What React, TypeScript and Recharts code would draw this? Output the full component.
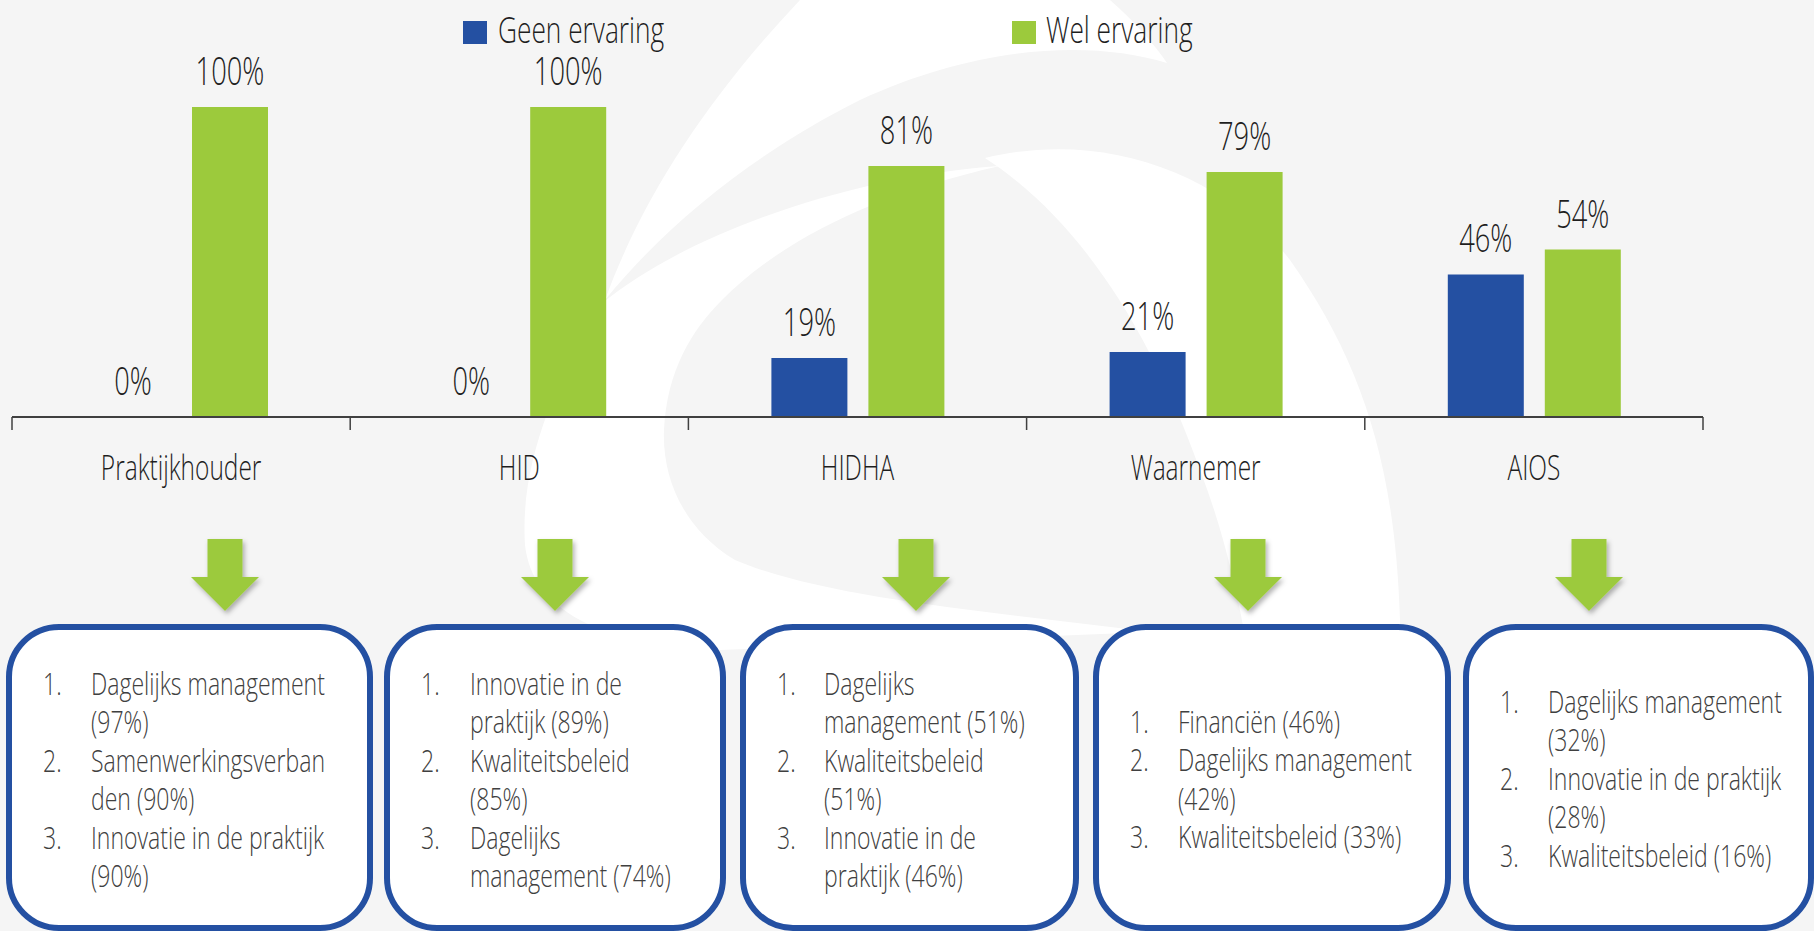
import React from 'react';
import { BarChart, Bar, XAxis, YAxis, LabelList, Legend } from 'recharts';

// ---------- data ----------
const categories = ['Praktijkhouder', 'HID', 'HIDHA', 'Waarnemer', 'AIOS'];
const geenErvaring = [0, 0, 19, 21, 46];
const welErvaring = [100, 100, 81, 79, 54];
const seriesNames = ['Geen ervaring', 'Wel ervaring'];

const box1 = [
  ['1.', 'Dagelijks management'], ['', '(97%)'],
  ['2.', 'Samenwerkingsverban'], ['', 'den (90%)'],
  ['3.', 'Innovatie in de praktijk'], ['', '(90%)'],
];
const box2 = [
  ['1.', 'Innovatie in de'], ['', 'praktijk (89%)'],
  ['2.', 'Kwaliteitsbeleid'], ['', '(85%)'],
  ['3.', 'Dagelijks'], ['', 'management (74%)'],
];
const box3 = [
  ['1.', 'Dagelijks'], ['', 'management (51%)'],
  ['2.', 'Kwaliteitsbeleid'], ['', '(51%)'],
  ['3.', 'Innovatie in de'], ['', 'praktijk (46%)'],
];
const box4 = [
  ['1.', 'Financiën (46%)'],
  ['2.', 'Dagelijks management'], ['', '(42%)'],
  ['3.', 'Kwaliteitsbeleid (33%)'],
];
const box5 = [
  ['1.', 'Dagelijks management'], ['', '(32%)'],
  ['2.', 'Innovatie in de praktijk'], ['', '(28%)'],
  ['3.', 'Kwaliteitsbeleid (16%)'],
];
const boxLists = [box1, box2, box3, box4, box5];

const data = categories.map((c, i) => ({ category: c, geen: geenErvaring[i], wel: welErvaring[i] }));

// ---------- styles / layout ----------
const W = 1814;
const H = 931;
const BLUE = '#2450a2';
const GREEN = '#9cca3c';
const BG = '#f5f5f5';
const INK = '#1e1e1e';
const BOXINK = '#404040';
const FONT = "'Open Sans', 'Noto Sans', sans-serif";
const WEIGHT = 300;
const MARGIN = { top: 107, right: 111, bottom: 454, left: 12 };
const XAXIS_H = 60;
const BAND = (W - MARGIN.left - MARGIN.right) / categories.length;

const boxFrames = [
  { x1: 9, x2: 370, numX: 43, txtX: 91, y0: 695 },
  { x1: 387, x2: 723, numX: 421, txtX: 470, y0: 695 },
  { x1: 743, x2: 1076, numX: 777, txtX: 824, y0: 695 },
  { x1: 1096, x2: 1448, numX: 1130, txtX: 1178, y0: 733 },
  { x1: 1466, x2: 1811, numX: 1500, txtX: 1548, y0: 713 },
];
const arrowX = [225, 555, 916, 1248, 1589];
const LINE_H = 38.4;

function CText(props: any) {
  const { x, y, size, anchor = 'start', fill = INK, sx = 0.7, children } = props;
  return (
    <text
      transform={`translate(${x},${y}) scale(${sx},1)`}
      x={0}
      y={0}
      fontFamily={FONT}
      fontWeight={WEIGHT}
      fontSize={size}
      textAnchor={anchor}
      fill={fill}
    >
      {children}
    </text>
  );
}

const CatTick = (props: any) => {
  const { x, y, payload, index } = props;
  const half = BAND / 2;
  return (
    <g>
      <line x1={x - half} x2={x - half} y1={y} y2={y + 13} stroke="#404040" strokeWidth={1.5} />
      {index === categories.length - 1 && (
        <line x1={x + half} x2={x + half} y1={y} y2={y + 13} stroke="#404040" strokeWidth={1.5} />
      )}
      <CText x={x} y={y + 63} size={35} anchor="middle" sx={0.7}>{payload.value}</CText>
    </g>
  );
};

const renderLabel = (props: any) => {
  const { x, y, width, height, value } = props;
  const top = Math.min(Number(y), Number(y) + Number(height || 0));
  return (
    <CText x={Number(x) + Number(width) / 2} y={top - 22} size={39} anchor="middle" sx={0.7}>
      {`${value}%`}
    </CText>
  );
};

const legendPos = [
  { sq: 463, tx: 498 },
  { sq: 1012, tx: 1046 },
];

const renderLegend = () => (
  <svg width={W} height={60} style={{ display: 'block' }}>
    {seriesNames.map((n, i) => (
      <g key={n}>
        <rect x={legendPos[i].sq} y={21} width={24} height={23} fill={i === 0 ? BLUE : GREEN} />
        <CText x={legendPos[i].tx} y={43} size={36} sx={0.73}>{n}</CText>
      </g>
    ))}
  </svg>
);

const Watermark = () => (
  <svg width={W} height={H} style={{ position: 'absolute', left: 0, top: 0 }}>
    <rect x={0} y={0} width={W} height={H} fill={BG} />
    <path
      d="M 800 0 L 1110 0 C 1135 22 1155 45 1167 63 C 1090 40 980 45 860 100 C 760 150 670 220 605 300 C 645 190 715 90 800 0 Z"
      fill="#ffffff"
    />
    <path
      d="M 600 305 C 550 390 520 470 525 545 C 532 610 600 645 720 650 L 1150 632 C 1000 612 830 600 735 560 C 685 530 662 480 664 430 C 667 370 692 330 722 300 C 782 240 872 195 1000 166 C 860 175 690 230 600 305 Z"
      fill="#ffffff"
    />
    <path
      d="M 985 158 C 1100 130 1220 170 1290 260 C 1360 360 1395 460 1400 620 L 1403 931 L 1268 931 C 1268 760 1250 600 1200 470 C 1150 330 1080 220 985 158 Z"
      fill="#ffffff"
    />
  </svg>
);

const Annotations = () => (
  <svg width={W} height={H} style={{ position: 'absolute', left: 0, top: 0, pointerEvents: 'none' }}>
    <defs>
      <filter id="arrowShadow" x="-30%" y="-30%" width="160%" height="160%">
        <feDropShadow dx={2} dy={3} stdDeviation={2.5} floodColor="#000" floodOpacity={0.3} />
      </filter>
    </defs>
    {arrowX.map((cx, i) => (
      <path
        key={i}
        d={`M ${cx - 17.5} 539 L ${cx + 17.5} 539 L ${cx + 17.5} 577 L ${cx + 34} 577 L ${cx} 611 L ${cx - 34} 577 L ${cx - 17.5} 577 Z`}
        fill={GREEN}
        filter="url(#arrowShadow)"
      />
    ))}
    {boxFrames.map((b, i) => (
      <g key={i}>
        <rect x={b.x1} y={627} width={b.x2 - b.x1} height={928 - 627} rx={50} ry={50} fill="#ffffff" stroke={BLUE} strokeWidth={6} />
        {boxLists[i].map((line, j) => (
          <g key={j}>
            {line[0] && <CText x={b.numX} y={b.y0 + j * LINE_H} size={32} fill={BOXINK} sx={0.72}>{line[0]}</CText>}
            <CText x={b.txtX} y={b.y0 + j * LINE_H} size={32} fill={BOXINK} sx={0.72}>{line[1]}</CText>
          </g>
        ))}
      </g>
    ))}
  </svg>
);

export default function App() {
  return (
    <div style={{ position: 'absolute', left: 0, top: 0, width: W, height: H, background: BG, overflow: 'hidden' }}>
      <Watermark />
      <div style={{ position: 'absolute', left: 0, top: 0 }}>
        <BarChart width={W} height={H} data={data} margin={MARGIN} barSize={76} barGap={21}>
          <YAxis hide domain={[0, 100]} />
          <XAxis
            dataKey="category"
            height={XAXIS_H}
            interval={0}
            tickSize={0}
            tickMargin={0}
            tickLine={false}
            axisLine={{ stroke: '#404040', strokeWidth: 2 }}
            tick={<CatTick />}
          />
          <Legend
            layout="horizontal"
            verticalAlign="middle"
            align="center"
            content={renderLegend}
            wrapperStyle={{ position: 'absolute', top: 0, left: 0, width: W, height: 60 }}
          />
          <Bar dataKey="geen" name={seriesNames[0]} fill={BLUE} minPointSize={0.01} isAnimationActive={false}>
            <LabelList dataKey="geen" content={renderLabel} />
          </Bar>
          <Bar dataKey="wel" name={seriesNames[1]} fill={GREEN} minPointSize={0.01} isAnimationActive={false}>
            <LabelList dataKey="wel" content={renderLabel} />
          </Bar>
        </BarChart>
      </div>
      <Annotations />
    </div>
  );
}
